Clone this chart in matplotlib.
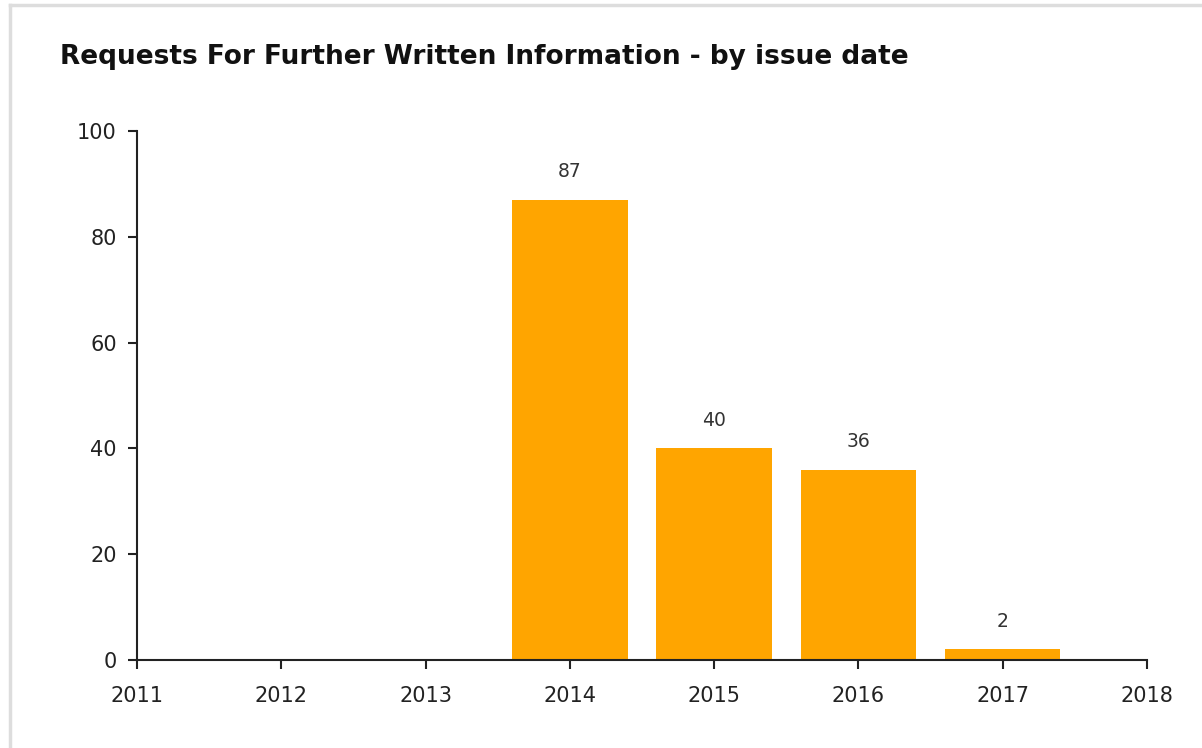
import numpy as np
import matplotlib.pyplot as plt
from matplotlib.lines import Line2D

years = [2014, 2015, 2016, 2017]
counts = [87, 40, 36, 2]
year_ticks = list(range(2011, 2019))
y_ticks = [0, 20, 40, 60, 80, 100]

plt.rcParams['font.family'] = ['DejaVu Sans']

fig = plt.figure(figsize=(12.02, 7.48), dpi=100)
ax = fig.add_axes([137 / 1202, 88 / 748, 1010 / 1202, 529 / 748])

bars = ax.bar(years, counts, width=0.8, color='#FFA500')
for rect, v in zip(bars, counts):
    ax.text(rect.get_x() + rect.get_width() / 2, v + 5.3, str(v),
            ha='center', va='center', fontsize=13.5, color='#333333')

ax.set_xlim(2011, 2018)
ax.set_ylim(0, 100)
ax.set_xticks(year_ticks)
ax.set_yticks(y_ticks)
ax.tick_params(axis='both', labelsize=15, colors='#222222', length=6.5, width=1.5)
ax.tick_params(axis='y', pad=8)
ax.tick_params(axis='x', pad=12)

for side in ['top', 'right']:
    ax.spines[side].set_visible(False)
for side in ['left', 'bottom']:
    ax.spines[side].set_linewidth(1.5)
    ax.spines[side].set_color('#222222')

fig.text(60 / 1202, 1 - 57 / 748, 'Requests For Further Written Information - by issue date',
         fontsize=19, fontweight='bold', ha='left', va='center', color='#111111')

# light frame round the chart
fig.add_artist(Line2D([10 / 1202, 10 / 1202], [0, 1 - 5 / 748], transform=fig.transFigure,
                      color='#dddddd', lw=2.5))
fig.add_artist(Line2D([10 / 1202, 1], [1 - 5 / 748, 1 - 5 / 748], transform=fig.transFigure,
                      color='#dddddd', lw=2.5))

fig.savefig('out.png', dpi=100)
